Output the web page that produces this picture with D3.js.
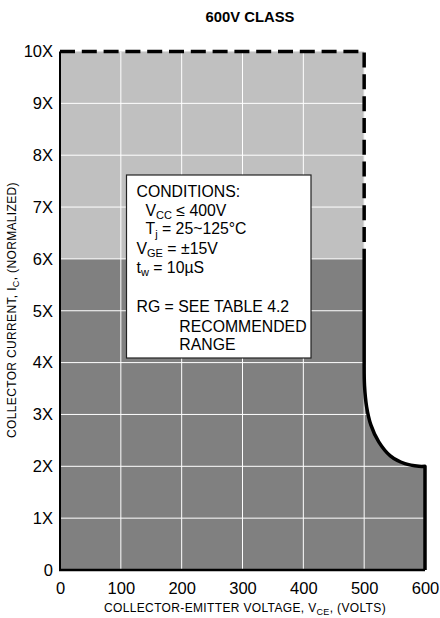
<!DOCTYPE html>
<html>
<head>
<meta charset="utf-8">
<script src="https://cdn.jsdelivr.net/npm/d3@7"></script>
<style>
  html, body { margin: 0; padding: 0; background: #fff; }
  svg { display: block; font-family: "Liberation Sans", Arial, sans-serif; }
</style>
</head>
<body>
<svg id="chart" width="440" height="618"></svg>
<script>
// ---- data ----
const title = "600V CLASS";
const xTicks = [0, 100, 200, 300, 400, 500, 600];
const yTicks = [0, 1, 2, 3, 4, 5, 6, 7, 8, 9, 10];
const yTickLabels = ["0", "1X", "2X", "3X", "4X", "5X", "6X", "7X", "8X", "9X", "10X"];
// short-circuit (dashed) boundary: Vce, Ic
const scBoundary = [[0, 10], [500, 10], [500, 6]];
// light-gray region corners
const lightRegion = [[0, 6], [0, 10], [500, 10], [500, 6]];
// RBSOA boundary (solid)
const rbStraight = [[500, 6], [500, 4]];
const rbCurve = [[500, 4.0], [500.6, 3.55], [504, 3.15], [511, 2.8], [524, 2.47], [543, 2.2], [567, 2.05], [590, 2.0], [600, 2.0]];
const rbEnd = [[600, 2.0], [600, 0]];
const conditions = [
  { parts: [["CONDITIONS:", 0]], indent: 0 },
  { parts: [["V", 0], ["CC", 1], [" \u2264 400V", 0]], indent: 1 },
  { parts: [["T", 0], ["j", 1], [" = 25~125\u00B0C", 0]], indent: 1 },
  { parts: [["V", 0], ["GE", 1], [" = \u00B115V", 0]], indent: 0 },
  { parts: [["t", 0], ["w", 1], [" = 10\u00B5S", 0]], indent: 0 },
  null,
  { parts: [["RG = SEE TABLE 4.2", 0]], indent: 0 },
  { parts: [["RECOMMENDED", 0]], indent: 2 },
  { parts: [["RANGE", 0]], indent: 2 }
];

// ---- drawing ----
const svg = d3.select("#chart");
const x = d3.scaleLinear().domain([0, 600]).range([60, 425]);
const y = d3.scaleLinear().domain([0, 10]).range([570, 51.5]);

const line = d3.line().x(d => x(d[0])).y(d => y(d[1]));
const curveLine = d3.line().x(d => x(d[0])).y(d => y(d[1])).curve(d3.curveCatmullRom.alpha(0.5));

const curvePath = curveLine(rbCurve);
const darkPath = "M" + x(0) + "," + y(0) + "L" + x(0) + "," + y(6) + "L" + x(500) + "," + y(6) +
  curvePath.replace(/^M/, "L") + "L" + x(600) + "," + y(0) + "Z";

svg.append("path").attr("d", line(lightRegion) + "Z").attr("fill", "#c0c0c0");
svg.append("path").attr("d", darkPath).attr("fill", "#808080");

// clip for gridlines
const defs = svg.append("defs");
const clip = defs.append("clipPath").attr("id", "fillclip");
clip.append("path").attr("d", line(lightRegion) + "Z");
clip.append("path").attr("d", darkPath);

const grid = svg.append("g").attr("clip-path", "url(#fillclip)")
  .attr("stroke", "#fff").attr("stroke-width", 1);
grid.selectAll("line.v").data(xTicks.filter(v => v > 0 && v < 600)).join("line")
  .attr("x1", d => x(d)).attr("x2", d => x(d)).attr("y1", y(0)).attr("y2", y(10));
grid.selectAll("line.h").data(yTicks.filter(v => v > 0 && v < 10)).join("line")
  .attr("x1", x(0)).attr("x2", x(600)).attr("y1", d => y(d)).attr("y2", d => y(d));

// axes lines
svg.append("line").attr("x1", x(0)).attr("x2", x(0)).attr("y1", y(0) + 1).attr("y2", y(10))
  .attr("stroke", "#000").attr("stroke-width", 2);
svg.append("line").attr("x1", x(0) - 1).attr("x2", x(600)).attr("y1", y(0)).attr("y2", y(0))
  .attr("stroke", "#000").attr("stroke-width", 2.5);

// boundaries
svg.append("path").attr("d", line(scBoundary)).attr("fill", "none")
  .attr("stroke", "#000").attr("stroke-width", 3.5).attr("stroke-dasharray", "15,6.8");
svg.append("path").attr("d", line(rbStraight) + curvePath.replace(/^M/, "L") + line(rbEnd).replace(/^M/, "L"))
  .attr("fill", "none").attr("stroke", "#000").attr("stroke-width", 3.5).attr("stroke-linejoin", "round");

// tick labels
const xAxis = d3.axisBottom(x).tickValues(xTicks).tickSize(0).tickPadding(12).tickFormat(d3.format("d"));
const gx = svg.append("g").attr("transform", `translate(0,${y(0)})`).call(xAxis);
gx.select(".domain").remove();
gx.selectAll("text").attr("font-size", 16.5).attr("font-family", "Liberation Sans, Arial, sans-serif").attr("fill", "#000");

const yAxis = d3.axisLeft(y).tickValues(yTicks).tickSize(0).tickPadding(7).tickFormat((d, i) => yTickLabels[i]);
const gy = svg.append("g").attr("transform", `translate(${x(0)},0)`).call(yAxis);
gy.select(".domain").remove();
gy.selectAll("text").attr("font-size", 16.5).attr("font-family", "Liberation Sans, Arial, sans-serif").attr("fill", "#000");

// title
svg.append("text").attr("x", 250).attr("y", 21.5).attr("text-anchor", "middle")
  .attr("font-size", 14.8).attr("font-weight", "bold").text(title);

// x label
const xl = svg.append("text").attr("x", 245).attr("y", 611.5).attr("text-anchor", "middle")
  .attr("font-size", 12).attr("letter-spacing", 0.35);
xl.append("tspan").text("COLLECTOR-EMITTER VOLTAGE, V");
xl.append("tspan").attr("font-size", 9).attr("dy", 3).text("CE");
xl.append("tspan").attr("dy", -3).text(", (VOLTS)");

// y label
const yl = svg.append("text").attr("transform", "translate(15.5,310) rotate(-90)")
  .attr("text-anchor", "middle").attr("font-size", 12).attr("letter-spacing", 0.35);
yl.append("tspan").text("COLLECTOR CURRENT, I");
yl.append("tspan").attr("font-size", 9).attr("dy", 3).text("C");
yl.append("tspan").attr("dy", -3).text(", (NORMALIZED)");

// conditions box
svg.append("rect").attr("x", 126.5).attr("y", 175).attr("width", 184.5).attr("height", 183)
  .attr("fill", "#fff").attr("stroke", "#222").attr("stroke-width", 1.2);
const indents = [136.5, 145.5, 179.3];
const baselines = [196.7, 215.5, 234.3, 253.5, 272.5, null, 311.7, 331.7, 350];
conditions.forEach((c, i) => {
  if (!c) return;
  const t = svg.append("text").attr("x", indents[c.indent]).attr("y", baselines[i]).attr("font-size", 15.8);
  let shifted = false;
  c.parts.forEach(([s, sub]) => {
    const ts = t.append("tspan").text(s);
    if (sub && !shifted) { ts.attr("font-size", 11).attr("dy", 3.5); shifted = true; }
    else if (!sub && shifted) { ts.attr("dy", -3.5); shifted = false; }
  });
});
</script>
</body>
</html>
